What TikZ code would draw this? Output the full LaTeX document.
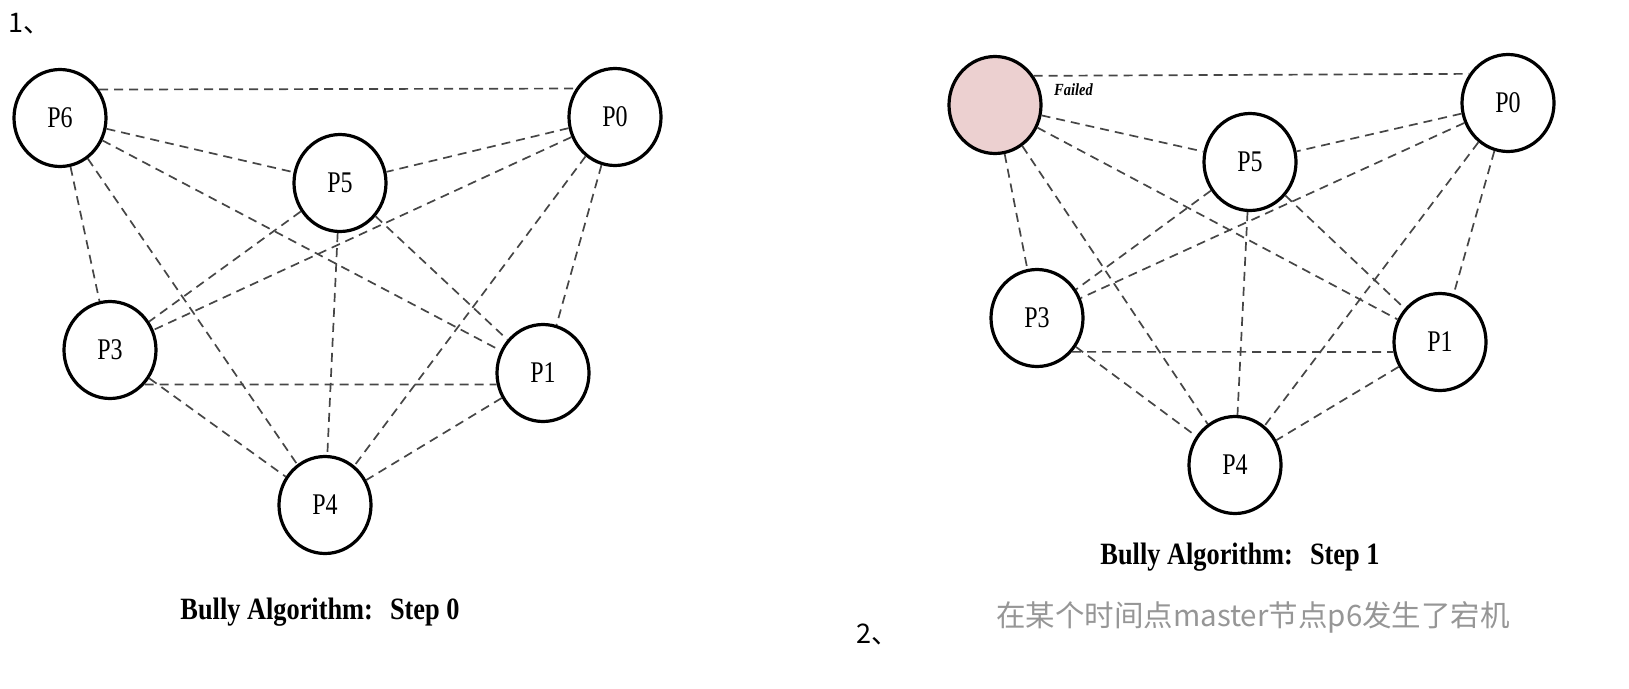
\documentclass[tikz,border=0pt]{standalone}
\usepackage{fontspec}
\setmainfont{Liberation Serif}
\newfontfamily\labfont[FakeStretch=0.8]{Liberation Serif}
\newfontfamily\capfont[FakeStretch=0.85]{Liberation Serif}
\newfontfamily\cjk{Noto Sans CJK SC}
\usetikzlibrary{shapes.geometric}
\definecolor{edgegray}{RGB}{70,70,70}
\definecolor{failpink}{RGB}{236,208,208}
\definecolor{notegray}{RGB}{150,150,150}
\tikzset{
  proc/.style={ellipse, draw=black, line width=3.2pt, minimum width=92pt, minimum height=97pt,
    inner sep=0pt, font=\labfont\fontsize{30}{30}\selectfont},
  link/.style={draw=edgegray, line width=1.7pt, dash pattern=on 9pt off 6pt},
  capt/.style={font=\capfont\bfseries\fontsize{31}{31}\selectfont},
  note/.style={font=\cjk\fontsize{27}{27}\selectfont, anchor=west, inner sep=0pt},
}
\begin{document}
\begin{tikzpicture}[x=1pt,y=-1pt]
\useasboundingbox (0,0) rectangle (1629,688);
% ---------- left diagram: step 0
\node[proc] (a6) at (60,118) {P6};
\node[proc] (a0) at (615,117) {P0};
\node[proc] (a5) at (340,183) {P5};
\node[proc] (a3) at (110,350) {P3};
\node[proc] (a1) at (543,373) {P1};
\node[proc] (a4) at (325,505) {P4};
\draw[link] (a6.36) -- (a0.144);
\draw[link] (a3.-45) -- (a1.194);
\foreach \u/\v in {a6/a5,a6/a1,a6/a3,a6/a4,a0/a5,a0/a3,a0/a4,a0/a1,a5/a3,a5/a1,a5/a4,a3/a4,a1/a4}
  \draw[link] (\u) -- (\v);
\node[capt] (c0) at (320,612) {Bully Algorithm:\hspace{0.55em}Step 0};
\node[note] (n1) at (8,24) {1、};
% ---------- right diagram: step 1
\node[proc, fill=failpink] (b6) at (995,105) {};
\node[proc] (b0) at (1508,103) {P0};
\node[proc] (b5) at (1250,162) {P5};
\node[proc] (b3) at (1037,318) {P3};
\node[proc] (b1) at (1440,342) {P1};
\node[proc] (b4) at (1235,465) {P4};
\draw[link] (b6.37) -- (b0.143);
\draw[link] (b3.-44) -- (b1.192);
\foreach \u/\v in {b6/b5,b6/b1,b6/b3,b6/b4,b0/b5,b0/b3,b0/b4,b0/b1,b5/b3,b5/b1,b5/b4,b3/b4,b1/b4}
  \draw[link] (\u) -- (\v);
\node[font=\capfont\bfseries\itshape\fontsize{17}{17}\selectfont, anchor=west, inner sep=0pt] (fl) at (1054,90) {Failed};
\node[capt] (c1) at (1240,557) {Bully Algorithm:\hspace{0.55em}Step 1};
\node[note] (n2) at (856,634) {2、};
\node[font=\cjk\fontsize{29.5}{29.5}\selectfont, text=notegray, inner sep=0pt] (t2) at (1253,617) {在某个时间点master节点p6发生了宕机};
\end{tikzpicture}
\end{document}
